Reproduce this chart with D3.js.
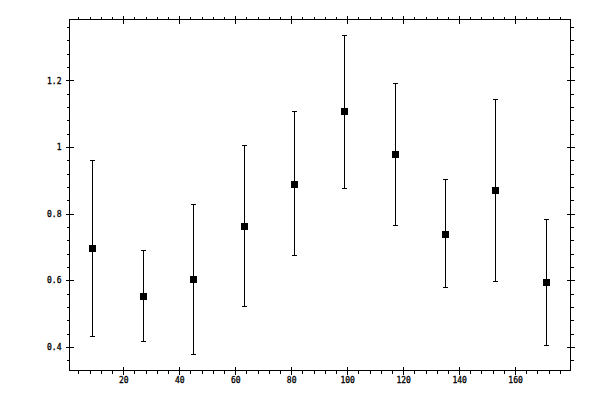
<!DOCTYPE html>
<html>
<head>
<meta charset="utf-8">
<script src="https://cdn.jsdelivr.net/npm/d3@7"></script>
<style>
  body { margin: 0; background: #fff; }
  svg { display: block; }
  .tick text { font-family: "DejaVu Sans Mono", monospace; font-size: 8px; fill: #000; stroke: #000; stroke-width: 0.3px; }
  .tick line { stroke: #000; }
</style>
</head>
<body>
<script>
// Chart data
const xValues = [9, 27, 45, 63, 81, 99, 117, 135, 153, 171];
const yValues = [0.698, 0.553, 0.605, 0.764, 0.890, 1.107, 0.980, 0.740, 0.872, 0.595];
const yLower  = [0.433, 0.418, 0.379, 0.523, 0.677, 0.878, 0.767, 0.580, 0.598, 0.406];
const yUpper  = [0.961, 0.692, 0.830, 1.006, 1.107, 1.335, 1.191, 0.903, 1.143, 0.785];
const xTickLabels = [20, 40, 60, 80, 100, 120, 140, 160];
const yTickLabels = [0.4, 0.6, 0.8, 1, 1.2];

// Layout
const WIDTH = 600;
const HEIGHT = 400;
const LEFT = 69.5;
const RIGHT = 570.5;
const TOP = 19.5;
const BOTTOM = 370.5;
const MAJOR_TICK = 4;
const MINOR_TICK = 3;
const MARKER_SIZE = 7;
const CAP_HALF = 2.5;

var svg = d3.select("body").append("svg")
  .attr("width", WIDTH)
  .attr("height", HEIGHT);

var x = d3.scaleLinear().domain([0.8, 179.8]).range([LEFT, RIGHT]);
var y = d3.scaleLinear().domain([0.329, 1.383]).range([BOTTOM, TOP]);

// minor tick positions
var xMinor = d3.range(4, 180, 4).filter(d => d % 20 !== 0);
var yMinor = d3.range(36, 138, 4).map(d => d / 100).filter(d => Math.round(d * 100) % 20 !== 0);

var fmt = d => String(+d.toFixed(2));

var drawAxis = function(axis, tx, ty)
{
  var g = svg.append("g")
    .attr("transform", "translate(" + tx + "," + ty + ")")
    .attr("shape-rendering", "crispEdges")
    .call(axis);
  g.select(".domain").remove();
  return g;
}

// bottom
var gb = drawAxis(d3.axisBottom(x).tickValues(xTickLabels).tickSize(MAJOR_TICK).tickPadding(3).tickFormat(fmt), 0, BOTTOM);
gb.selectAll(".tick line").attr("y1", -MAJOR_TICK);
drawAxis(d3.axisBottom(x).tickValues(xMinor).tickSize(MINOR_TICK).tickFormat(""), 0, BOTTOM);

// top
var gt = drawAxis(d3.axisTop(x).tickValues(xTickLabels).tickSize(MAJOR_TICK).tickFormat(""), 0, TOP);
gt.selectAll(".tick line").attr("y1", MAJOR_TICK);
drawAxis(d3.axisTop(x).tickValues(xMinor).tickSize(MINOR_TICK).tickFormat(""), 0, TOP);

// left
var gl = drawAxis(d3.axisLeft(y).tickValues(yTickLabels).tickSize(MAJOR_TICK).tickPadding(4).tickFormat(fmt), LEFT, 0);
gl.selectAll(".tick line").attr("x1", MAJOR_TICK);
drawAxis(d3.axisLeft(y).tickValues(yMinor).tickSize(MINOR_TICK).tickFormat(""), LEFT, 0);

// right
var gr = drawAxis(d3.axisRight(y).tickValues(yTickLabels).tickSize(MAJOR_TICK).tickFormat(""), RIGHT, 0);
gr.selectAll(".tick line").attr("x1", -MAJOR_TICK);
drawAxis(d3.axisRight(y).tickValues(yMinor).tickSize(MINOR_TICK).tickFormat(""), RIGHT, 0);

// frame
svg.append("rect")
  .attr("x", LEFT)
  .attr("y", TOP)
  .attr("width", RIGHT - LEFT)
  .attr("height", BOTTOM - TOP)
  .attr("fill", "none")
  .attr("stroke", "#000")
  .attr("shape-rendering", "crispEdges");

// error bars
var points = xValues.map((d, i) => ({ x: d, y: yValues[i], lo: yLower[i], hi: yUpper[i] }));

var bars = svg.append("g")
  .attr("stroke", "#000")
  .attr("stroke-width", 1)
  .attr("shape-rendering", "crispEdges");

bars.selectAll(".stem").data(points).join("line")
  .attr("class", "stem")
  .attr("x1", d => Math.round(x(d.x)) + 0.5)
  .attr("x2", d => Math.round(x(d.x)) + 0.5)
  .attr("y1", d => y(d.hi))
  .attr("y2", d => y(d.lo));

bars.selectAll(".capTop").data(points).join("line")
  .attr("class", "capTop")
  .attr("x1", d => Math.round(x(d.x)) + 0.5 - CAP_HALF)
  .attr("x2", d => Math.round(x(d.x)) + 0.5 + CAP_HALF)
  .attr("y1", d => Math.round(y(d.hi)) + 0.5)
  .attr("y2", d => Math.round(y(d.hi)) + 0.5);

bars.selectAll(".capBottom").data(points).join("line")
  .attr("class", "capBottom")
  .attr("x1", d => Math.round(x(d.x)) + 0.5 - CAP_HALF)
  .attr("x2", d => Math.round(x(d.x)) + 0.5 + CAP_HALF)
  .attr("y1", d => Math.round(y(d.lo)) + 0.5)
  .attr("y2", d => Math.round(y(d.lo)) + 0.5);

// markers
svg.append("g").selectAll("rect").data(points).join("rect")
  .attr("x", d => Math.round(x(d.x)) + 0.5 - MARKER_SIZE / 2)
  .attr("y", d => Math.round(y(d.y)) + 0.5 - MARKER_SIZE / 2)
  .attr("width", MARKER_SIZE)
  .attr("height", MARKER_SIZE)
  .attr("fill", "#000")
  .attr("shape-rendering", "crispEdges");
</script>
</body>
</html>
